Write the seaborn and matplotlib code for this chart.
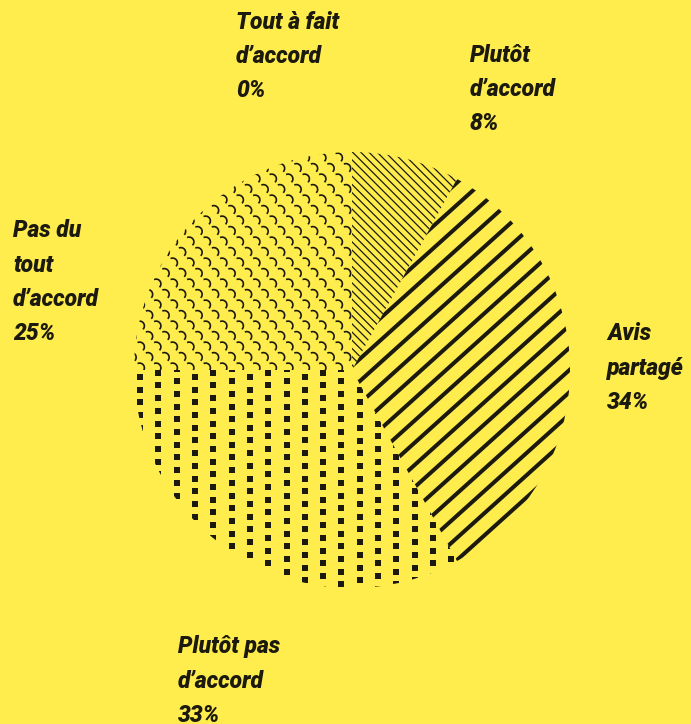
import numpy as np
import matplotlib
matplotlib.use("Agg")
import matplotlib.pyplot as plt
import seaborn as sns
from matplotlib.collections import LineCollection, PatchCollection
from matplotlib.patches import Rectangle

# data
categories = ["Pas du tout d’accord", "Plutôt pas d’accord", "Avis partagé",
              "Plutôt d’accord", "Tout à fait d’accord"]
label_lines = [["Pas du", "tout", "d’accord"], ["Plutôt pas", "d’accord"],
               ["Avis", "partagé"], ["Plutôt", "d’accord"], ["Tout à fait", "d’accord"]]
percent = [25, 33, 34, 8, 0]

bg = "#FFED4E"
ink = "#1C1A0E"

sns.set_theme(style="white", rc={"figure.facecolor": bg, "axes.facecolor": bg})
plt.rcParams["font.family"] = ["Roboto", "DejaVu Sans"]

W, H = 691, 724
fig = plt.figure(figsize=(W / 100, H / 100), dpi=100)
cx, cy, r = 352, 370, 218
ax = fig.add_axes([(cx - r) / W, (H - cy - r) / H, 2 * r / W, 2 * r / H])

wedges, _ = ax.pie(percent, startangle=90, counterclock=True, radius=1,
                   wedgeprops=dict(facecolor="none", edgecolor="none"))
ax.set_xlim(-1, 1)
ax.set_ylim(-1, 1)
ax.axis("off")
px = 1 / r  # one pixel in data units


def stripes(angle, spacing, lw):
    a = np.deg2rad(angle)
    d = np.array([np.cos(a), np.sin(a)])
    n = np.array([-np.sin(a), np.cos(a)])
    segs = []
    for k in np.arange(-1.5, 1.5, spacing):
        c = n * k
        segs.append([c - 2 * d, c + 2 * d])
    return LineCollection(segs, colors=ink, linewidths=lw)


def scales():
    segs = []
    rs, cs, rad = 10.5 * px, 16.5 * px, 4.8 * px
    t = np.deg2rad(np.linspace(-45, 115, 14))
    for i, yy in enumerate(np.arange(-1.05, 1.05, rs)):
        off = (cs / 2) * (i % 2)
        for xx in np.arange(-1.05, 1.05, cs) + off:
            segs.append(np.column_stack([xx + rad * np.cos(t), yy + rad * np.sin(t)]))
    return LineCollection(segs, colors=ink, linewidths=1.2)


def dots():
    sq, cs, rs = 6 * px, 18.3 * px, 12.7 * px
    rects = []
    for i, xx in enumerate(np.arange(-0.972 - cs, 1.0, cs)):
        y0 = (i * 4.23 * px) % rs
        for yy in np.arange(-1.1 + y0, 1.1, rs):
            rects.append(Rectangle((xx - sq / 2, yy - sq / 2), sq, sq))
    return PatchCollection(rects, facecolor=ink, edgecolor="none")


patterns = [scales(), dots(), stripes(42, 16.5 * px, 2.9),
            stripes(-45, 5.8 * px, 0.9), None]
for w, p in zip(wedges, patterns):
    if p is None:
        continue
    ax.add_collection(p)
    p.set_clip_path(w)

# label positions (pixels: left x, first-line cap centre y)
label_xy = [(13, 229.5), (178, 645.5), (607, 332.5), (470, 54.5), (236, 21)]
step = 34
for lines, pct, (lx, ly) in zip(label_lines, percent, label_xy):
    for j, s in enumerate(lines + [f"{pct}%"]):
        fig.text(lx / W, 1 - (ly + j * step + 8) / H, s, fontsize=16.5,
                 fontweight="black", fontstyle="italic", color=ink,
                 ha="left", va="baseline")

fig.savefig("out.png", dpi=100, facecolor=bg)
